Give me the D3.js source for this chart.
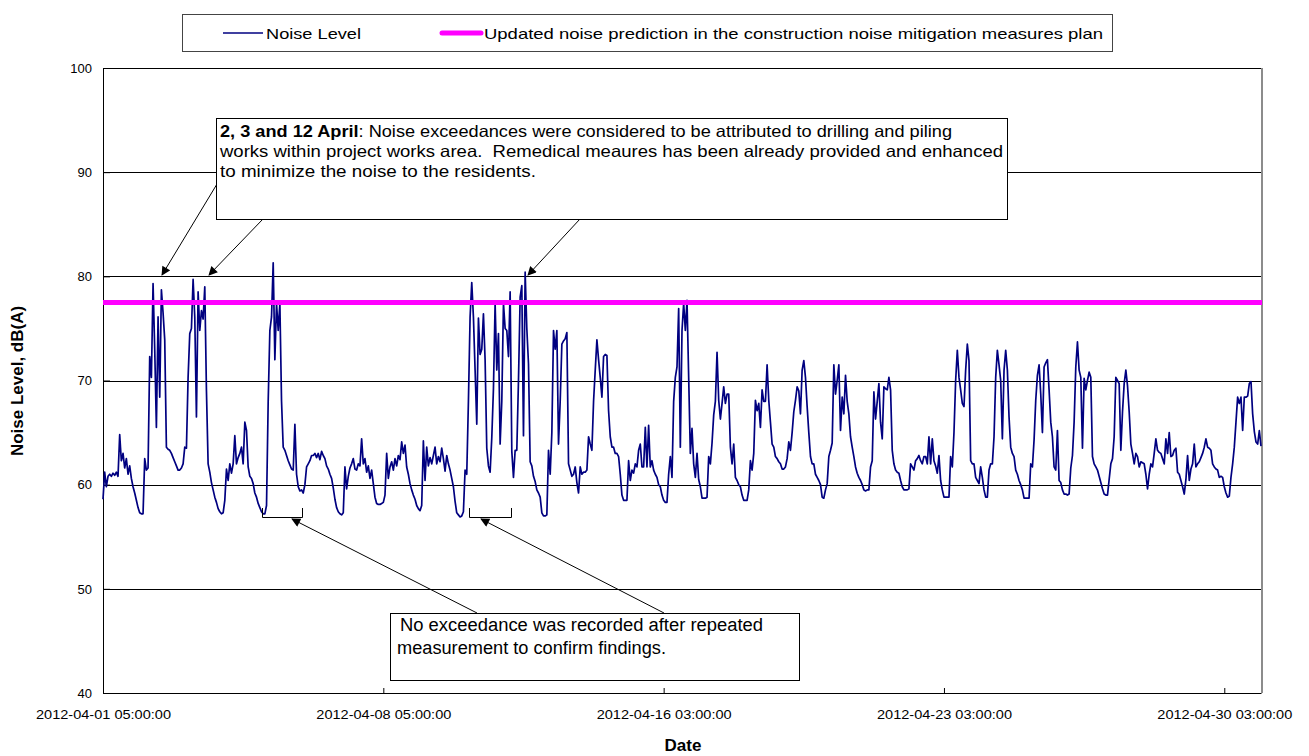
<!DOCTYPE html>
<html>
<head>
  <meta charset="utf-8">
  <title>Noise Level</title>
  <script src="https://d3js.org/d3.v7.min.js"></script>
  <style>
    body { margin: 0; background: #fff; }
    text { font-family: Arial, "Liberation Sans", sans-serif; fill: #000; }
  </style>
</head>
<body>
<div id="chart"></div>
<script>
// hourly noise level, dB(A) (starts 2012-04-01 05:00)
const week1 = [
  58.6, 61.2, 59.8, 60.8, 61.0, 60.8, 61.1, 60.9, 61.2, 60.8, 64.8, 62.3, 63.0, 61.6, 62.5, 61.0, 61.8, 60.6, 59.8, 59.2, 58.5, 57.8, 57.3, 57.2,
  57.2, 62.5, 61.4, 61.6, 72.3, 70.3, 79.3, 73.0, 65.5, 76.1, 68.4, 78.7, 76.5, 73.9, 63.6, 63.4, 63.3, 63.0, 62.6, 62.2, 61.8, 61.4, 61.4, 61.6,
  62.0, 63.6, 63.5, 70.3, 74.5, 75.0, 79.7, 76.1, 66.5, 78.5, 74.8, 76.7, 75.9, 79.0, 69.0, 62.0, 61.2, 60.2, 59.5, 58.8, 58.3, 57.7, 57.4, 57.2,
  57.3, 58.5, 61.5, 60.4, 62.0, 61.1, 62.0, 64.7, 62.0, 62.6, 63.0, 63.6, 62.0, 66.0, 65.2, 61.7, 60.8, 60.6, 60.1, 59.2, 58.8, 58.2, 57.8, 57.4,
  57.2, 57.2, 58.0, 68.0, 74.8, 76.1, 81.3, 72.0, 77.4, 74.8, 77.4, 68.0, 63.6, 63.3, 62.8, 62.3, 61.9, 61.5, 61.4, 65.8, 61.0, 59.8, 59.4, 59.5,
  59.2, 60.0, 61.7, 62.0, 62.3, 62.8, 62.8, 63.0, 62.6, 63.0, 62.4, 63.2, 62.8, 62.5, 61.8, 61.5, 61.0, 60.6, 59.7, 58.6, 57.8, 57.4, 57.2, 57.1,
  57.3, 61.7, 59.6, 60.8, 61.6, 62.0, 62.5, 61.5, 61.4, 62.0, 61.8, 64.4, 62.0, 62.5, 61.2, 61.8, 60.6, 61.4, 60.1, 58.8, 58.2, 58.1, 58.1, 58.2
];
const week2 = [
  58.3, 59.0, 63.0, 60.6, 61.7, 62.2, 61.4, 62.5, 61.8, 62.8, 62.4, 64.1, 63.0, 63.8, 61.7, 61.0, 60.1, 59.5, 59.0, 58.6, 58.0, 57.7, 57.5, 58.0,
  64.2, 60.4, 63.6, 61.8, 62.6, 62.0, 62.8, 63.6, 62.0, 62.7, 62.2, 63.5, 62.5, 61.3, 62.8, 62.0, 61.4, 60.6, 59.8, 58.4, 57.3, 57.1, 56.9, 57.0,
  57.4, 61.4, 61.0, 68.0, 76.1, 79.4, 76.1, 71.0, 65.8, 76.0, 72.5, 73.0, 76.4, 72.0, 63.5, 61.8, 61.2, 64.5, 69.2, 77.4, 71.0, 74.5, 63.9, 68.0,
  77.4, 75.0, 74.8, 72.3, 78.5, 63.2, 60.7, 63.3, 63.3, 70.0, 78.0, 79.1, 64.7, 80.4, 75.0, 71.6, 62.2, 61.8, 60.8, 60.3, 59.5, 59.2, 58.8, 57.3,
  57.0, 57.0, 57.1, 63.3, 61.0, 65.0, 74.8, 73.0, 74.8, 63.9, 68.0, 73.5, 73.8, 74.0, 74.6, 62.0, 61.4, 60.8, 61.0, 61.7, 60.2, 59.2, 61.7, 61.0,
  61.2, 61.2, 61.4, 64.6, 63.9, 63.3, 68.0, 71.0, 73.9, 72.0, 70.3, 68.4, 72.3, 72.5, 72.4, 67.1, 64.6, 63.6, 63.6, 63.0, 63.0, 62.7, 61.0, 59.0,
  58.5, 58.5, 58.5, 62.3, 60.4, 61.4, 61.1, 62.0, 61.7, 63.3, 63.9, 61.7, 61.7, 65.5, 61.7, 65.7, 61.7, 62.3, 61.4, 61.0, 60.7, 60.0, 59.8, 59.0
];
const week3 = [
  58.5, 58.3, 58.3, 61.0, 62.7, 60.7, 68.0, 70.3, 71.3, 76.9, 63.6, 74.8, 77.4, 74.8, 77.7, 70.3, 63.0, 65.4, 62.0, 60.7, 63.0, 60.5, 59.8, 58.7,
  58.7, 58.7, 58.8, 62.7, 62.0, 64.0, 66.7, 68.0, 72.7, 68.1, 66.3, 67.8, 69.4, 67.8, 68.7, 68.7, 63.6, 62.0, 63.9, 60.7, 60.4, 60.0, 59.8, 59.0,
  58.5, 58.5, 58.5, 59.5, 62.3, 61.4, 63.0, 68.1, 67.1, 67.8, 65.5, 69.1, 68.0, 68.0, 71.5, 68.1, 66.0, 63.9, 63.6, 62.7, 62.5, 62.2, 62.0, 61.5,
  61.5, 61.7, 62.5, 64.1, 63.3, 65.0, 67.0, 68.1, 69.4, 69.0, 66.8, 71.0, 71.9, 70.3, 67.5, 65.0, 62.7, 62.0, 62.0, 61.0, 60.7, 60.4, 60.0, 58.8,
  58.7, 59.5, 60.1, 62.7, 63.3, 64.0, 71.5, 68.7, 70.0, 71.5, 65.2, 68.4, 66.8, 70.5, 68.0, 66.8, 64.6, 63.6, 62.7, 61.7, 61.1, 60.7, 60.4, 60.0,
  59.5, 59.4, 59.5, 59.5, 61.7, 62.3, 68.9, 66.3, 68.0, 69.7, 66.0, 64.4, 69.4, 69.2, 69.1, 70.3, 69.1, 63.3, 62.0, 61.4, 61.2, 61.1, 60.4, 59.8,
  59.5, 59.5, 59.5, 59.6, 62.0, 61.7, 61.4, 62.3, 62.5, 62.8, 62.3, 62.0, 62.7, 62.7, 62.0, 64.6, 62.0, 64.4, 62.3, 61.8, 61.1, 62.8, 60.4, 59.5
];
const week4 = [
  58.8, 58.8, 58.8, 58.8, 62.7, 61.7, 65.0, 70.0, 72.9, 70.3, 69.1, 67.8, 67.5, 71.0, 73.5, 71.9, 62.3, 62.0, 62.0, 60.7, 60.4, 60.1, 61.7, 60.7,
  59.5, 58.8, 58.8, 61.4, 62.0, 62.0, 64.6, 70.3, 72.9, 71.5, 70.0, 64.4, 71.0, 72.9, 71.0, 66.5, 63.6, 63.0, 62.7, 61.4, 61.0, 60.4, 60.0, 59.5,
  58.7, 58.7, 58.7, 58.7, 62.0, 61.7, 64.3, 68.1, 70.5, 71.5, 68.7, 65.0, 71.3, 71.7, 72.0, 69.1, 66.0, 64.6, 61.7, 61.4, 65.2, 60.4, 60.2, 59.5,
  59.1, 59.1, 59.0, 59.1, 61.6, 62.8, 66.0, 71.3, 73.7, 71.0, 70.3, 63.5, 70.2, 69.1, 70.0, 70.8, 70.3, 62.7, 62.0, 61.7, 61.4, 60.8, 60.2, 59.6,
  59.1, 59.0, 59.0, 60.5, 62.0, 62.5, 64.6, 70.3, 70.0, 69.7, 63.3, 67.0, 69.7, 71.0, 69.5, 67.0, 63.9, 63.0, 62.0, 63.0, 62.7, 61.7, 62.2, 62.1,
  62.0, 61.0, 59.6, 61.0, 62.0, 61.7, 63.0, 64.4, 63.3, 63.1, 63.0, 62.5, 62.0, 64.4, 63.0, 65.0, 62.7, 62.8, 63.3, 63.5, 61.2, 61.0, 60.4, 59.8,
  59.1, 60.5, 62.8, 60.4, 61.5, 62.0, 63.9, 61.7, 62.0, 62.2, 62.6, 63.0, 63.6, 64.4, 63.6, 63.5, 63.3, 62.0, 61.7, 61.5, 61.4, 60.7, 60.8, 60.7
];
const week5 = [
  59.8, 59.2, 58.8, 58.9, 60.7, 62.0, 63.6, 66.0, 68.4, 67.8, 68.4, 65.2, 68.4, 68.4, 68.5, 69.7, 69.9, 66.8, 65.1, 64.1, 63.9, 65.2, 63.7
];

const predictionLevel = 77.5;
const tickIndex = [0, 168, 336, 504, 672];
const tickLabels = ["2012-04-01 05:00:00", "2012-04-08 05:00:00", "2012-04-16 03:00:00",
                    "2012-04-23 03:00:00", "2012-04-30 03:00:00"];
const yTicks = [40, 50, 60, 70, 80, 90, 100];
const seriesNames = ["Noise Level", "Updated noise prediction in the construction noise mitigation measures plan"];

const noise = week1.concat(week2, week3, week4, week5);

const width = 1309, height = 756;
const plot = {left: 103, right: 1261, top: 68, bottom: 693};

const svg = d3.select("#chart")
  .append("svg")
  .attr("width", width)
  .attr("height", height)
  .style("display", "block")
  .style("background", "#fff");

const defs = svg.append("defs");
defs.append("marker")
  .attr("id", "arrow")
  .attr("viewBox", "0 0 10 10")
  .attr("refX", 9).attr("refY", 5)
  .attr("markerWidth", 11).attr("markerHeight", 9)
  .attr("markerUnits", "userSpaceOnUse")
  .attr("orient", "auto")
  .append("path")
  .attr("d", "M0,0 L10,5 L0,10 z")
  .attr("fill", "#000");

const x = d3.scaleLinear().domain([0, noise.length - 1]).range([plot.left, plot.right]);
const y = d3.scaleLinear().domain([40, 100]).range([plot.bottom, plot.top]);

// gridlines
svg.append("g")
  .selectAll("line")
  .data(yTicks.filter(d => d > 40))
  .enter()
  .append("line")
  .attr("x1", plot.left).attr("x2", plot.right + 1)
  .attr("y1", d => Math.round(y(d)) + 0.5)
  .attr("y2", d => Math.round(y(d)) + 0.5)
  .attr("stroke", "#000")
  .attr("stroke-width", 1);

// right border of the plot area
svg.append("line")
  .attr("x1", plot.right + 1).attr("x2", plot.right + 1)
  .attr("y1", plot.top).attr("y2", plot.bottom)
  .attr("stroke", "#8c8c8c")
  .attr("stroke-width", 2);

// y axis
const yAxis = svg.append("g")
  .attr("transform", "translate(" + plot.left + ",0)")
  .call(d3.axisLeft(y).tickValues(yTicks).tickSizeInner(-7).tickSizeOuter(0).tickPadding(11));
yAxis.selectAll("text").style("font-size", "13px").style("font-family", "Arial, 'Liberation Sans', sans-serif");
yAxis.selectAll("line, path").attr("stroke", "#000");

// x axis
const xAxis = svg.append("g")
  .attr("transform", "translate(0," + plot.bottom + ")")
  .call(d3.axisBottom(x).tickValues(tickIndex)
    .tickFormat((d, i) => tickLabels[i])
    .tickSizeInner(-5).tickSizeOuter(0).tickPadding(17));
xAxis.selectAll("text")
  .style("font-size", "13px")
  .style("font-family", "Arial, 'Liberation Sans', sans-serif")
  .attr("textLength", 135)
  .attr("lengthAdjust", "spacingAndGlyphs");
xAxis.selectAll("line, path").attr("stroke", "#000");

// noise series
const line = d3.line()
  .x((d, i) => x(i))
  .y(d => y(d));

svg.append("path")
  .datum(noise)
  .attr("d", line)
  .attr("fill", "none")
  .attr("stroke", "#000080")
  .attr("stroke-width", 1.7)
  .attr("stroke-linejoin", "round");

// prediction line
svg.append("line")
  .attr("x1", x(0)).attr("x2", x(noise.length - 1) + 1)
  .attr("y1", y(predictionLevel)).attr("y2", y(predictionLevel))
  .attr("stroke", "#ff00ff")
  .attr("stroke-width", 5);

// axis titles
svg.append("text")
  .attr("transform", "translate(23,381) rotate(-90)")
  .attr("text-anchor", "middle")
  .style("font-size", "17px")
  .style("font-weight", "bold")
  .text("Noise Level, dB(A)");

svg.append("text")
  .attr("x", 683).attr("y", 751)
  .attr("text-anchor", "middle")
  .style("font-size", "17px")
  .style("font-weight", "bold")
  .text("Date");

// legend
const legend = svg.append("g");
legend.append("rect")
  .attr("x", 182.5).attr("y", 14.5)
  .attr("width", 930).attr("height", 37)
  .attr("fill", "#fff")
  .attr("stroke", "#444");
legend.append("line")
  .attr("x1", 223).attr("x2", 263).attr("y1", 33).attr("y2", 33)
  .attr("stroke", "#000080").attr("stroke-width", 1.7);
legend.append("text")
  .attr("x", 266).attr("y", 38.5)
  .style("font-size", "15px")
  .attr("textLength", 95).attr("lengthAdjust", "spacingAndGlyphs")
  .text(seriesNames[0]);
legend.append("line")
  .attr("x1", 442).attr("x2", 481).attr("y1", 33).attr("y2", 33)
  .attr("stroke", "#ff00ff").attr("stroke-width", 5).attr("stroke-linecap", "round");
legend.append("text")
  .attr("x", 484).attr("y", 38.5)
  .style("font-size", "15px")
  .attr("textLength", 619).attr("lengthAdjust", "spacingAndGlyphs")
  .text(seriesNames[1]);

// annotation: exceedances
const note1 = svg.append("g");
note1.append("line").attr("x1", 217).attr("y1", 184).attr("x2", 162).attr("y2", 275)
  .attr("stroke", "#000").attr("marker-end", "url(#arrow)");
note1.append("line").attr("x1", 263).attr("y1", 219).attr("x2", 209).attr("y2", 275)
  .attr("stroke", "#000").attr("marker-end", "url(#arrow)");
note1.append("line").attr("x1", 580).attr("y1", 219).attr("x2", 528).attr("y2", 275)
  .attr("stroke", "#000").attr("marker-end", "url(#arrow)");
note1.append("rect")
  .attr("x", 216.5).attr("y", 118.5).attr("width", 791).attr("height", 101)
  .attr("fill", "#fff").attr("stroke", "#000");
const t1 = note1.append("text")
  .attr("x", 220).attr("y", 137)
  .style("font-size", "16.5px")
  .attr("textLength", 732).attr("lengthAdjust", "spacingAndGlyphs");
t1.append("tspan").style("font-weight", "bold").text("2, 3 and 12 April");
t1.append("tspan").text(": Noise exceedances were considered to be attributed to drilling and piling");
note1.append("text")
  .attr("x", 220).attr("y", 157)
  .style("font-size", "16.5px")
  .style("white-space", "pre")
  .attr("textLength", 783).attr("lengthAdjust", "spacingAndGlyphs")
  .text("works within project works area.  Remedical meaures has been already provided and enhanced");
note1.append("text")
  .attr("x", 220).attr("y", 177)
  .style("font-size", "16.5px")
  .attr("textLength", 316).attr("lengthAdjust", "spacingAndGlyphs")
  .text("to minimize the noise to the residents.");

// annotation: repeated measurement
const note2 = svg.append("g");
[[262.5, 302.5], [469.5, 511.5]].forEach(b => {
  note2.append("path")
    .attr("d", "M" + b[0] + ",508 V517.5 H" + b[1] + " V508")
    .attr("fill", "none").attr("stroke", "#000");
});
note2.append("line").attr("x1", 477).attr("y1", 613).attr("x2", 292).attr("y2", 519)
  .attr("stroke", "#000").attr("marker-end", "url(#arrow)");
note2.append("line").attr("x1", 664).attr("y1", 613).attr("x2", 481).attr("y2", 519)
  .attr("stroke", "#000").attr("marker-end", "url(#arrow)");
note2.append("rect")
  .attr("x", 390.5).attr("y", 613.5).attr("width", 409).attr("height", 67)
  .attr("fill", "#fff").attr("stroke", "#000");
note2.append("text")
  .attr("x", 400).attr("y", 631)
  .style("font-size", "18px")
  .attr("textLength", 363).attr("lengthAdjust", "spacingAndGlyphs")
  .text("No exceedance was recorded after repeated");
note2.append("text")
  .attr("x", 397).attr("y", 654)
  .style("font-size", "18px")
  .attr("textLength", 269).attr("lengthAdjust", "spacingAndGlyphs")
  .text("measurement to confirm findings.");
</script>
</body>
</html>
